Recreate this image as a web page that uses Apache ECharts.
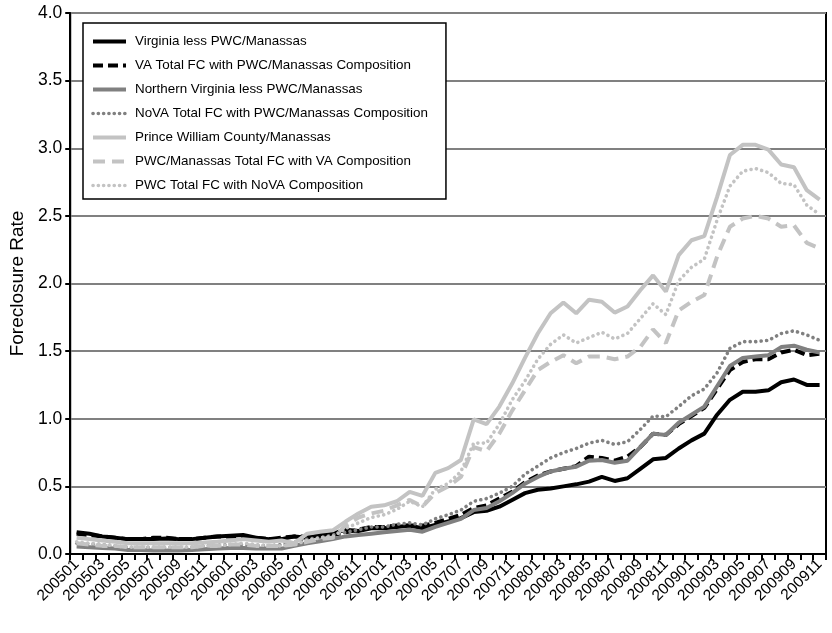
<!DOCTYPE html>
<html>
<head>
<meta charset="utf-8">
<script src="https://cdn.jsdelivr.net/npm/echarts@6/dist/echarts.min.js"></script>
<style>
  html, body { margin: 0; padding: 0; background: #fff; }
  #chart { width: 832px; height: 633px; }
</style>
</head>
<body>
<div id="chart"></div>
<script>
// Monthly periods, January 2005 through November 2009
const months = [
  '200501','200502','200503','200504','200505','200506','200507','200508','200509','200510','200511','200512',
  '200601','200602','200603','200604','200605','200606','200607','200608','200609','200610','200611','200612',
  '200701','200702','200703','200704','200705','200706','200707','200708','200709','200710','200711','200712',
  '200801','200802','200803','200804','200805','200806','200807','200808','200809','200810','200811','200812',
  '200901','200902','200903','200904','200905','200906','200907','200908','200909','200910','200911'
];

// Foreclosure rates (%)
const vaLessPwc = [
  0.16,0.15,0.13,0.12,0.11,0.11,0.11,0.115,0.11,0.11,0.12,0.13,
  0.135,0.14,0.12,0.11,0.11,0.13,0.12,0.14,0.15,0.18,0.17,0.19,
  0.19,0.20,0.21,0.19,0.215,0.24,0.265,0.31,0.32,0.35,0.40,0.45,
  0.475,0.485,0.50,0.515,0.535,0.57,0.54,0.56,0.63,0.70,0.71,0.78,
  0.84,0.89,1.03,1.14,1.20,1.20,1.21,1.27,1.29,1.25,1.25
];
const vaTotalPwcComp = [
  0.15,0.14,0.13,0.12,0.11,0.11,0.12,0.12,0.11,0.11,0.12,0.13,
  0.13,0.13,0.12,0.11,0.12,0.13,0.13,0.13,0.14,0.16,0.18,0.20,
  0.20,0.21,0.21,0.21,0.23,0.26,0.29,0.34,0.36,0.41,0.46,0.53,
  0.58,0.61,0.63,0.65,0.72,0.71,0.69,0.72,0.79,0.89,0.88,0.96,
  1.02,1.08,1.22,1.36,1.42,1.44,1.44,1.49,1.51,1.47,1.48
];
const novaLessPwc = [
  0.055,0.05,0.045,0.04,0.03,0.03,0.025,0.025,0.025,0.03,0.035,0.04,
  0.045,0.045,0.04,0.04,0.04,0.06,0.08,0.095,0.11,0.13,0.14,0.15,
  0.16,0.17,0.18,0.165,0.20,0.23,0.26,0.325,0.34,0.39,0.45,0.52,
  0.57,0.61,0.63,0.645,0.69,0.695,0.675,0.69,0.79,0.89,0.88,0.97,
  1.03,1.09,1.24,1.39,1.45,1.46,1.47,1.53,1.54,1.51,1.49
];
const novaTotalPwcComp = [
  0.08,0.075,0.07,0.06,0.05,0.05,0.05,0.05,0.05,0.05,0.06,0.065,
  0.07,0.07,0.065,0.06,0.07,0.09,0.11,0.12,0.14,0.16,0.18,0.20,
  0.20,0.22,0.23,0.215,0.26,0.29,0.325,0.39,0.41,0.45,0.50,0.59,
  0.65,0.71,0.75,0.78,0.82,0.84,0.81,0.83,0.92,1.02,1.015,1.09,
  1.17,1.22,1.34,1.52,1.57,1.57,1.58,1.63,1.65,1.62,1.58
];
const pwcManassas = [
  0.12,0.11,0.10,0.09,0.08,0.08,0.08,0.08,0.08,0.08,0.085,0.09,
  0.10,0.11,0.10,0.09,0.10,0.08,0.15,0.165,0.175,0.24,0.30,0.35,
  0.36,0.39,0.46,0.43,0.60,0.635,0.695,0.995,0.96,1.09,1.26,1.45,
  1.63,1.78,1.86,1.78,1.88,1.865,1.785,1.83,1.95,2.06,1.94,2.21,
  2.32,2.35,2.64,2.95,3.025,3.025,2.99,2.88,2.86,2.69,2.62
];
const pwcTotalVaComp = [
  0.08,0.07,0.06,0.06,0.05,0.05,0.05,0.05,0.05,0.05,0.06,0.06,
  0.07,0.07,0.06,0.06,0.06,0.07,0.09,0.11,0.12,0.21,0.27,0.30,
  0.32,0.36,0.40,0.35,0.45,0.50,0.57,0.79,0.76,0.89,1.06,1.21,
  1.36,1.42,1.47,1.41,1.46,1.46,1.44,1.46,1.53,1.66,1.56,1.80,
  1.865,1.915,2.20,2.42,2.48,2.50,2.48,2.42,2.43,2.30,2.26
];
const pwcTotalNovaComp = [
  0.09,0.08,0.07,0.06,0.05,0.05,0.05,0.05,0.05,0.05,0.06,0.06,
  0.07,0.08,0.07,0.06,0.06,0.07,0.10,0.12,0.13,0.19,0.23,0.27,
  0.29,0.33,0.39,0.35,0.48,0.52,0.61,0.82,0.82,0.96,1.14,1.28,
  1.44,1.55,1.62,1.56,1.60,1.64,1.59,1.63,1.74,1.85,1.77,2.02,
  2.12,2.18,2.47,2.72,2.83,2.85,2.82,2.74,2.73,2.58,2.51
];

const yTicks = { min: 0, max: 4, step: 0.5 };

const FONT = '"Liberation Sans", Arial, Helvetica, sans-serif';
const BLACK = '#000000';
const GRAY = '#808080';
const LIGHT = '#c3c3c3';

const DOTS = [0.1, 5.4];

function lineSeries(name, data, color, width, dash) {
  const style = { color: color, width: width, type: dash || 'solid' };
  if (dash === DOTS) style.cap = 'round';
  return {
    name: name,
    type: 'line',
    data: data,
    symbol: 'none',
    showSymbol: false,
    smooth: false,
    lineStyle: style,
    itemStyle: { color: color },
    emphasis: { disabled: true }
  };
}

const seriesList = [
  lineSeries('Virginia less PWC/Manassas', vaLessPwc, BLACK, 4),
  lineSeries('VA Total FC with PWC/Manassas Composition', vaTotalPwcComp, BLACK, 4, [10, 5]),
  lineSeries('Northern Virginia less PWC/Manassas', novaLessPwc, GRAY, 4),
  lineSeries('NoVA Total FC with PWC/Manassas Composition', novaTotalPwcComp, GRAY, 3.6, DOTS),
  lineSeries('Prince William County/Manassas', pwcManassas, LIGHT, 4),
  lineSeries('PWC/Manassas Total FC with VA Composition', pwcTotalVaComp, LIGHT, 4, [12, 7]),
  lineSeries('PWC Total FC with NoVA Composition', pwcTotalNovaComp, LIGHT, 3.6, DOTS)
];

// Legend entries carry the same stroke as their series, without a marker
const legendData = seriesList.map(function (s) {
  return {
    name: s.name,
    itemStyle: { opacity: 0 },
    lineStyle: Object.assign({}, s.lineStyle, s.lineStyle.type === DOTS ? { type: [0.1, 5.2] } : {})
  };
});

const chart = echarts.init(document.getElementById('chart'), null, { renderer: 'canvas' });

chart.setOption({
  animation: false,
  backgroundColor: '#ffffff',
  textStyle: { fontFamily: FONT, color: BLACK },
  grid: {
    left: 69, right: 6, top: 13, bottom: 79,
    show: true, borderColor: BLACK, borderWidth: 2, backgroundColor: 'transparent'
  },
  legend: {
    orient: 'vertical',
    left: 83, top: 23,
    padding: [12, 18, 7, 8],
    itemWidth: 33, itemHeight: 14, itemGap: 11,
    backgroundColor: '#ffffff',
    borderColor: BLACK, borderWidth: 1.5, borderRadius: 0,
    itemStyle: { opacity: 0 },
    lineStyle: { width: 'inherit', type: 'inherit', cap: 'inherit' },
    textStyle: { fontFamily: FONT, fontSize: 13.4, color: BLACK, padding: [0, 0, 0, 4] },
    data: legendData
  },
  xAxis: {
    type: 'category',
    data: months,
    boundaryGap: true,
    axisLine: { lineStyle: { color: BLACK, width: 2 } },
    axisTick: { show: true, interval: 0, length: 6, lineStyle: { color: BLACK, width: 2 } },
    axisLabel: {
      interval: 1, rotate: 45, margin: 8,
      fontFamily: FONT, fontSize: 15.5, color: BLACK
    },
    splitLine: { show: false }
  },
  yAxis: {
    type: 'value',
    min: yTicks.min, max: yTicks.max, interval: yTicks.step,
    name: 'Foreclosure Rate',
    nameLocation: 'middle',
    nameGap: 42,
    nameTextStyle: { fontFamily: FONT, fontSize: 19, color: BLACK },
    axisLine: { show: true, lineStyle: { color: BLACK, width: 2 } },
    axisTick: { show: true, length: 5, lineStyle: { color: BLACK, width: 2 } },
    axisLabel: {
      margin: 8, fontFamily: FONT, fontSize: 17.5, color: BLACK,
      formatter: function (v) { return v.toFixed(1); }
    },
    splitLine: { show: true, lineStyle: { color: GRAY, width: 2 } }
  },
  series: seriesList
});
</script>
</body>
</html>
